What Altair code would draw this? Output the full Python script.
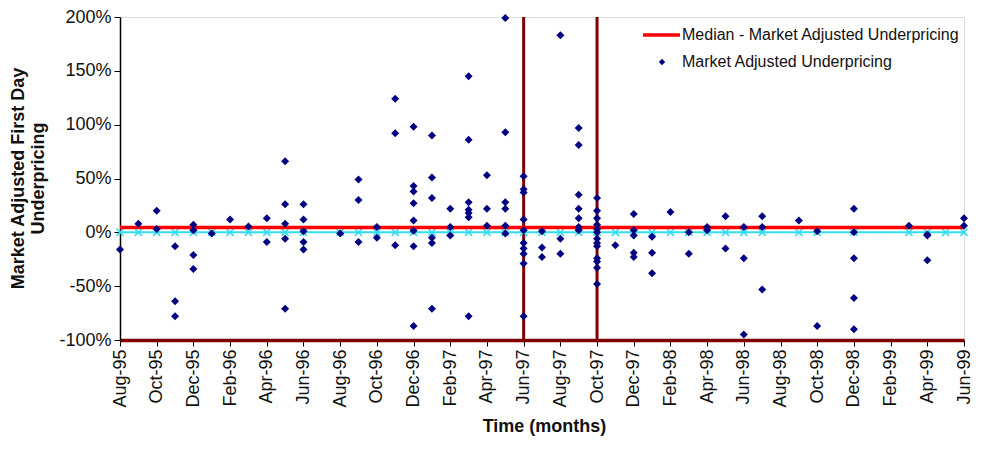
import altair as alt
import pandas as pd

months = ["Aug-95", "Sep-95", "Oct-95", "Nov-95", "Dec-95", "Jan-96", "Feb-96", "Mar-96",
          "Apr-96", "May-96", "Jun-96", "Jul-96", "Aug-96", "Sep-96", "Oct-96", "Nov-96",
          "Dec-96", "Jan-97", "Feb-97", "Mar-97", "Apr-97", "May-97", "Jun-97", "Jul-97",
          "Aug-97", "Sep-97", "Oct-97", "Nov-97", "Dec-97", "Jan-98", "Feb-98", "Mar-98",
          "Apr-98", "May-98", "Jun-98", "Jul-98", "Aug-98", "Sep-98", "Oct-98", "Nov-98",
          "Dec-98", "Jan-99", "Feb-99", "Mar-99", "Apr-99", "May-99", "Jun-99"]

# Market adjusted first-day underpricing (%) per IPO, grouped by listing month
underpricing_by_month = {
    "Aug-95": [-16],
    "Sep-95": [8],
    "Oct-95": [20, 3],
    "Nov-95": [-13, -64, -78],
    "Dec-95": [7, 2, -21, -34],
    "Jan-96": [-1],
    "Feb-96": [12],
    "Mar-96": [5.5],
    "Apr-96": [13, -9],
    "May-96": [66, 26, 8, -6, -71],
    "Jun-96": [26, 12, 1, -9, -16],
    "Aug-96": [-1],
    "Sep-96": [49, 30, -9],
    "Oct-96": [5, -5],
    "Nov-96": [124, 92, -12],
    "Dec-96": [98, 43, 38, 27, 11, 1.5, -13, -87],
    "Jan-97": [90, 51, 32, -5, -10, -71],
    "Feb-97": [22, 5, -3],
    "Mar-97": [145, 86, 28, 21, 18, 14, -78],
    "Apr-97": [53, 22, 6],
    "May-97": [199, 93, 28, 22, 6, -1],
    "Jun-97": [52, 40, 37, 12, 2, -10, -15, -20, -29, -78],
    "Jul-97": [1, -14, -23],
    "Aug-97": [183, -6, -20],
    "Sep-97": [97, 81, 35, 22, 13, 5, 2],
    "Oct-97": [32, 20, 13, 7, 3, 0, -6, -10, -13, -24, -27, -33, -48],
    "Nov-97": [-12],
    "Dec-97": [17, 2, -3, -19, -23],
    "Jan-98": [-4, -19, -38],
    "Feb-98": [19],
    "Mar-98": [0, -20],
    "Apr-98": [5, 2],
    "May-98": [15, -15],
    "Jun-98": [5, -24, -95],
    "Jul-98": [15, 5, -53],
    "Sep-98": [11],
    "Oct-98": [1, -87],
    "Dec-98": [22, 0, -24, -61, -90],
    "Mar-99": [6],
    "Apr-99": [-2, -3, -26],
    "Jun-99": [13, 6],
}

median_underpricing = [4.6]
event_months = ["Jun-97", "Oct-97"]
zero_series_months = [m for i, m in enumerate(months) if i <= 35 and m != "Jul-96"] + \
    ["Sep-98", "Oct-98", "Dec-98", "Mar-99", "Apr-99", "May-99", "Jun-99"]
legend_labels = ["Median - Market Adjusted Underpricing", "Market Adjusted Underpricing"]
y_ticks = [-100, -50, 0, 50, 100, 150, 200]

FONT = "Liberation Sans"
NAVY = "#000080"
RED = "#FF0000"
DARKRED = "#800000"
CYAN = "#33DDEE"

idx = {m: i for i, m in enumerate(months)}
pts = pd.DataFrame([(idx[m], v) for m, vals in underpricing_by_month.items() for v in vals],
                   columns=["t", "value"])
zero_df = pd.DataFrame({"t": [idx[m] for m in zero_series_months],
                        "value": [0] * len(zero_series_months)})
med_df = pd.DataFrame({"value": median_underpricing})
ev_df = pd.DataFrame({"t": [idx[m] for m in event_months]})

label_js = "[" + ",".join("'%s'" % m for m in months) + "][datum.value]"

x_scale = alt.Scale(domain=[0, len(months) - 1], nice=False, zero=False)
y_scale = alt.Scale(domain=[-100, 200], nice=False, zero=False)

x_axis = alt.Axis(values=list(range(0, len(months), 2)), labelExpr=label_js, tickCount=100,
                  labelAngle=270, labelFontSize=18, labelFont=FONT,
                  labelColor="#111", labelPadding=3, tickColor="#000", tickSize=6,
                  labelOverlap=False, labelFlush=False,
                  domainColor=DARKRED, domainWidth=3.5, grid=False,
                  title="Time (months)", titleFont=FONT, titleFontSize=18,
                  titleFontWeight="bold", titleColor="#111", titleBaseline="alphabetic",
                  titleY=91, titleX=424)
y_axis = alt.Axis(values=y_ticks, labelExpr="datum.value + '%'", labelFontSize=18,
                  labelFont=FONT, labelColor="#111", labelPadding=3, tickColor="#000",
                  labelOverlap=False, labelFlush=False, tickCount=100,
                  tickSize=6, domainColor="#000", domainWidth=1.5, grid=False,
                  title=["Market Adjusted First Day", "Underpricing"], titleFont=FONT,
                  titleFontSize=18, titleFontWeight="bold", titleColor="#111",
                  titleAngle=270, titleBaseline="top", titleLineHeight=20,
                  titleX=-111, titleY=161)

X = alt.X("t:Q", scale=x_scale, axis=x_axis)
Y = alt.Y("value:Q", scale=y_scale, axis=y_axis)

events = alt.Chart(ev_df).mark_rule(color=DARKRED, strokeWidth=3).encode(
    x=alt.X("t:Q", scale=x_scale))

zero_line = alt.Chart(zero_df).mark_line(color=CYAN, strokeWidth=2).encode(x=X, y=Y)
zero_marks = alt.Chart(zero_df).mark_point(
    shape="M-1,-1L1,1M-1,1L1,-1", filled=False, color=CYAN, strokeWidth=1.6, size=50,
    opacity=1).encode(x=X, y=Y)

median = alt.Chart(med_df).mark_rule(color=RED, strokeWidth=3.5).encode(
    y=alt.Y("value:Q", scale=y_scale))

points = alt.Chart(pts).mark_point(shape="diamond", filled=True, color=NAVY, size=64,
                                   opacity=1).encode(x=X, y=Y)

leg_line = alt.Chart(pd.DataFrame({"label": legend_labels[:1]})).mark_rule(
    color=RED, strokeWidth=3.5).encode(x=alt.value(523), x2=alt.value(560), y=alt.value(18))
leg_diamond = alt.Chart(pd.DataFrame({"label": legend_labels[1:]})).mark_point(
    shape="diamond", filled=True, color=NAVY, size=40, opacity=1).encode(
    x=alt.value(542), y=alt.value(45))
leg_text1 = alt.Chart(pd.DataFrame({"label": legend_labels[:1]})).mark_text(
    align="left", baseline="middle", font=FONT, fontSize=16, color="#111").encode(
    x=alt.value(562), y=alt.value(18), text="label:N")
leg_text2 = alt.Chart(pd.DataFrame({"label": legend_labels[1:]})).mark_text(
    align="left", baseline="middle", font=FONT, fontSize=16, color="#111").encode(
    x=alt.value(562), y=alt.value(45), text="label:N")

chart = alt.layer(
    events, zero_line, zero_marks, median, points,
    leg_line, leg_diamond, leg_text1, leg_text2
).properties(
    width=844, height=323,
    padding={"left": 112, "top": 9, "right": 9, "bottom": 96},
    autosize=alt.AutoSizeParams(type="none"),
).configure_view(
    stroke="#7f7f7f", strokeWidth=1.5
).configure(background="white")

chart.save("out.html", embed_options={"renderer": "svg", "actions": False})
